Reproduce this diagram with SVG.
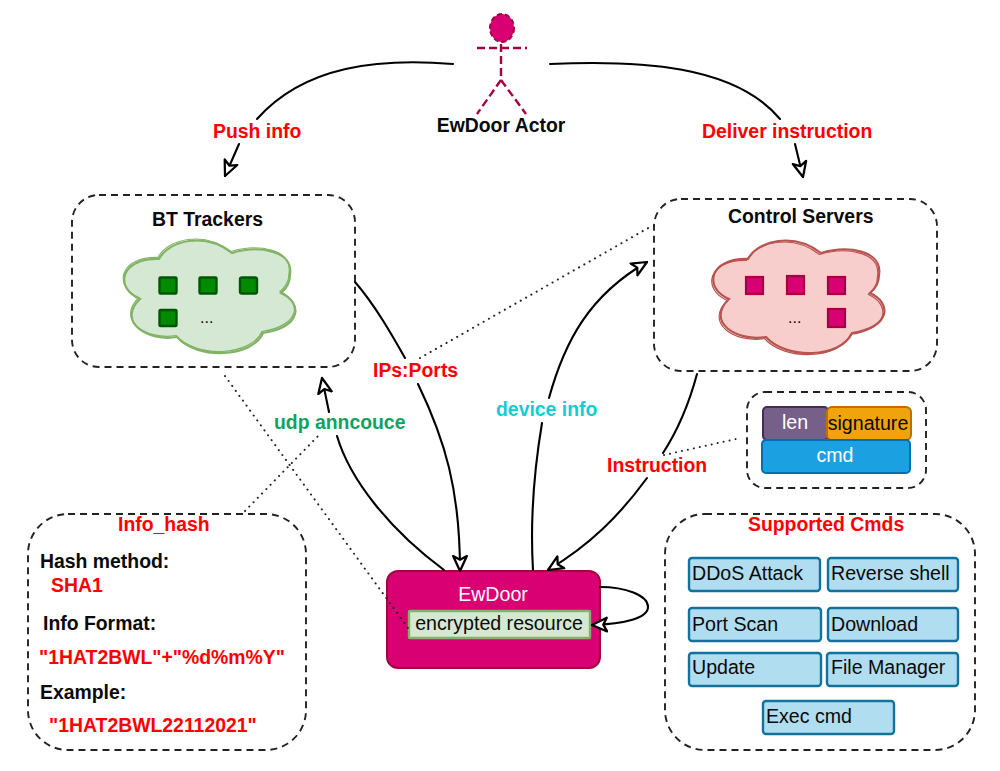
<svg xmlns="http://www.w3.org/2000/svg" width="1000" height="771" viewBox="0 0 1000 771">
<style>
text{font-family:"Liberation Sans",Arial,sans-serif;font-size:19.6px}
text.b{font-weight:bold;font-size:19.4px}.k{fill:#0a0a0a}.r{fill:#ff0000}.w{fill:#ffffff}
.c{text-anchor:middle}
.dash{fill:none;stroke:#222;stroke-width:1.9;stroke-dasharray:7 5}
.conn{fill:none;stroke:#000;stroke-width:2.1;stroke-linecap:round}
.dot{fill:none;stroke:#222;stroke-width:2;stroke-dasharray:0.1 6;stroke-linecap:round}
.cmd{fill:#b1ddf0;stroke:#10739e;stroke-width:2.4}
.gc{fill:#d5e8d4;stroke:#82b366;stroke-width:2.2}
.gl{fill:none;stroke:#82b366;stroke-width:1.2}
.rc{fill:#f8cecc;stroke:#b85450;stroke-width:2.2}
.rl{fill:none;stroke:#b85450;stroke-width:1.2}
.gs{fill:#008a00;stroke:#005700;stroke-width:2.4}
.ps{fill:#d80073;stroke:#a50040;stroke-width:2.2}
.act{fill:none;stroke:#a50040;stroke-width:2.4;stroke-dasharray:8 4}
text.dots{font-size:16px}
</style>
<defs>
<marker id="arr" markerUnits="userSpaceOnUse" markerWidth="20" markerHeight="20" refX="13" refY="7" orient="auto" viewBox="0 0 16 14">
<path d="M13,7 L1,1.5 L4,7 L1,12.5 Z" fill="#fff" stroke="#000" stroke-width="1.8" stroke-linejoin="round"/>
</marker>
<path id="cl" d="M159,259 C169,240 205,232 232,253 C258,245 294,250 290,275 C290,283 286,289 281,293 C303,303 302,327 263,333 C252,358 197,360 177,337 C148,342 116,322 140,299 C114,288 120,258 159,259 Z"/>
</defs>

<g id="bt-trackers">
<rect class="dash" x="72" y="195" width="283" height="172" rx="27"/>
<text class="b k" x="152" y="226">BT Trackers</text>
<use href="#cl" class="gc"/>
<use href="#cl" class="gl" transform="translate(-1,-1.5)"/>
<rect class="gs" x="159.5" y="277.5" width="17" height="16" rx="1"/>
<rect class="gs" x="199.5" y="277.5" width="17" height="16" rx="1"/>
<rect class="gs" x="240" y="277.5" width="17" height="16" rx="2"/>
<rect class="gs" x="159.5" y="310" width="17" height="16" rx="1"/>
<text class="k dots" x="200" y="323">...</text>
</g>

<g id="control-servers">
<rect class="dash" x="654" y="199" width="283" height="172" rx="27"/>
<text class="b k" x="728" y="223">Control Servers</text>
<use href="#cl" class="rc" transform="translate(589,0)"/>
<use href="#cl" class="rl" transform="translate(587.5,1.5)"/>
<rect class="ps" x="746" y="277" width="17" height="17"/>
<rect class="ps" x="787" y="276" width="17" height="18"/>
<rect class="ps" x="828" y="277" width="17" height="17"/>
<rect class="ps" x="828" y="309" width="17" height="18"/>
<text class="k dots" x="788" y="323">...</text>
</g>

<g id="actor">
<ellipse cx="502" cy="28" rx="12" ry="14" fill="#d80073" stroke="#a50040" stroke-width="2" stroke-dasharray="5 3"/>
<path class="act" d="M477,48 H527 M501,44 V80 M501,80 L477,114 M501,80 L526,114"/>
<text class="b k c" x="501" y="132">EwDoor Actor</text>
</g>

<g id="packet">
<rect class="dash" x="747" y="392" width="179" height="96" rx="18"/>
<rect x="763" y="407" width="65" height="33" rx="4" fill="#76608a" stroke="#432d57" stroke-width="2"/>
<rect x="827" y="407" width="84" height="33" rx="5" fill="#f0a30a" stroke="#bd7000" stroke-width="2"/>
<rect x="762" y="440" width="148" height="33" rx="4" fill="#1ba1e2" stroke="#006eaf" stroke-width="2"/>
<text class="w c" x="795" y="429">len</text>
<text class="k c" x="868" y="430">signature</text>
<text class="w c" x="835" y="462">cmd</text>
</g>

<g id="ewdoor">
<rect x="387" y="571" width="213" height="97" rx="11" fill="#d80073" stroke="#a50040" stroke-width="2"/>
<text class="w c" x="493" y="601">EwDoor</text>
<rect x="409" y="611" width="181" height="27" rx="1" fill="#d5e8d4" stroke="#82b366" stroke-width="2.4"/>
<text class="k c" x="499" y="630">encrypted resource</text>
</g>

<g id="info-hash">
<rect class="dash" x="28" y="514" width="278" height="236" rx="40"/>
<text class="b r" x="118" y="531">Info_hash</text>
<text class="b k" x="40" y="568">Hash method:</text>
<text class="b r" x="51" y="592">SHA1</text>
<text class="b k" x="43" y="630">Info Format:</text>
<text class="b r" x="39" y="664">"1HAT2BWL"+"%d%m%Y"</text>
<text class="b k" x="40" y="699">Example:</text>
<text class="b r" x="49" y="732">"1HAT2BWL22112021"</text>
</g>

<g id="supported-cmds">
<rect class="dash" x="665" y="514" width="310" height="236" rx="40"/>
<text class="b r" x="748" y="531">Supported Cmds</text>
<rect class="cmd" x="689" y="558" width="131" height="33" rx="3"/><text class="k" x="692" y="580">DDoS Attack</text>
<rect class="cmd" x="828" y="558" width="130" height="33" rx="3"/><text class="k" x="831" y="580">Reverse shell</text>
<rect class="cmd" x="689" y="608" width="132" height="33" rx="3"/><text class="k" x="692" y="631">Port Scan</text>
<rect class="cmd" x="828" y="608" width="130" height="33" rx="3"/><text class="k" x="831" y="631">Download</text>
<rect class="cmd" x="689" y="653" width="132" height="33" rx="3"/><text class="k" x="692" y="674">Update</text>
<rect class="cmd" x="827" y="653" width="131" height="33" rx="3"/><text class="k" x="831" y="674">File Manager</text>
<rect class="cmd" x="763" y="701" width="131" height="33" rx="3"/><text class="k" x="766" y="723">Exec cmd</text>
</g>

<g id="connectors">
<path class="conn" d="M453,64 C380,58 305,65 257,119"/>
<path class="conn" d="M239,144 L225,176" marker-end="url(#arr)"/>
<path class="conn" d="M550,64 C640,60 735,65 780,119"/>
<path class="conn" d="M795,144 L803,177" marker-end="url(#arr)"/>
<path class="conn" d="M355,282 C375,305 392,335 405,358"/>
<path class="conn" d="M418,384 C445,440 460,490 460,571" marker-end="url(#arr)"/>
<path class="conn" d="M444,570 C390,530 350,480 337,436"/>
<path class="conn" d="M329,412 L322,378" marker-end="url(#arr)"/>
<path class="conn" d="M533,570 C530,520 535,465 542,423"/>
<path class="conn" d="M549,398 C565,340 590,295 647,262" marker-end="url(#arr)"/>
<path class="conn" d="M697,374 C690,400 678,430 663,453"/>
<path class="conn" d="M647,478 C620,515 590,545 548,570" marker-end="url(#arr)"/>
<path class="conn" d="M600,587 C625,587 648,595 648,607 C648,618 625,624 592,625" marker-end="url(#arr)"/>
<path class="dot" d="M225,376 L408,628"/>
<path class="dot" d="M245,511 L320,434"/>
<path class="dot" d="M420,358 L650,227"/>
<path class="dot" d="M664,455 L736,439"/>
</g>

<g id="labels">
<text class="b r" x="213" y="138">Push info</text>
<text class="b r" x="702" y="138">Deliver instruction</text>
<text class="b r" x="373" y="377">IPs:Ports</text>
<text class="b" x="274" y="429" fill="#0fa35f">udp anncouce</text>
<text class="b" x="496" y="416" fill="#14ccd4">device info</text>
<text class="b r" x="607" y="472">Instruction</text>
</g>
</svg>
